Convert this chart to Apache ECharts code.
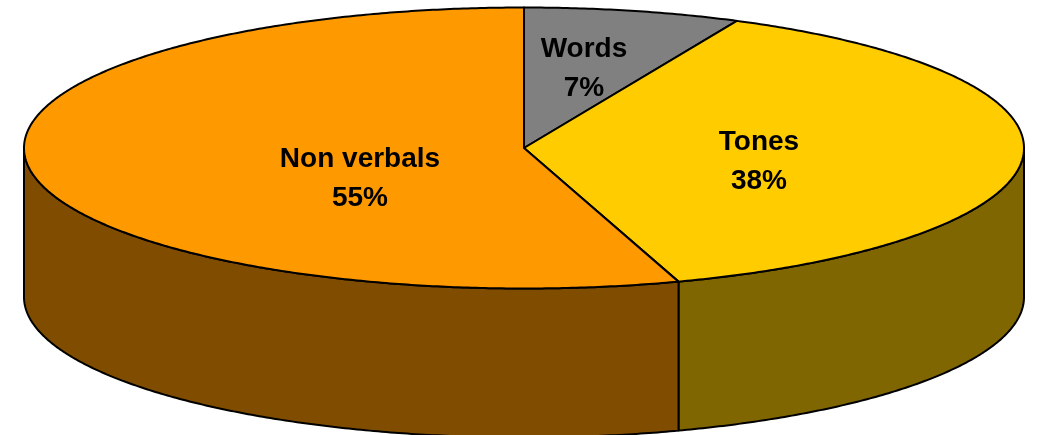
<!DOCTYPE html>
<html>
<head>
<meta charset="utf-8">
<style>
html, body { margin: 0; padding: 0; background: #fff; }
#main { width: 1038px; height: 435px; }
</style>
<script src="https://cdn.jsdelivr.net/npm/echarts@6/dist/echarts.min.js"></script>
</head>
<body>
<div id="main"></div>
<script>
const categories = ['Words', 'Tones', 'Non verbals']
const shares = [7, 38, 55]
const topColors = ['#808080', '#FFCC00', '#FF9900']
const sideColors = ['#404040', '#806600', '#804D00']

// where the text sits, as dx/dy from the pie centre
const labelSpots = [[60, -79], [235, 14], [-164, 31]]

const cx = 524, cy = 148, rx = 500, ry = 140.5, depth = 149
const total = shares.reduce((a, b) => a + b, 0)

const rim = (deg, drop) => {
    const a = deg * Math.PI / 180
    return [cx + rx * Math.cos(a), cy + ry * Math.sin(a) + drop]
}

const arc = (from, to, drop) => {
    const pts = []
    const steps = Math.max(2, Math.ceil(Math.abs(to - from) * 2))
    for (let i = 0; i <= steps; i++) {
        pts.push(rim(from + (to - from) * i / steps, drop))
    }
    return pts
}

const renderSlice = (params, api) => {
    const i = params.dataIndex
    let before = 0
    for (let k = 0; k < i; k++) before += shares[k]
    const start = -90 + before / total * 360
    const end = start + api.value(0) / total * 360
    const children = []

    // only the front half of the wall can be seen
    const from = Math.max(start, 0), to = Math.min(end, 180)
    if (to > from) {
        children.push({
            type: 'polygon',
            z2: 1,
            shape: { points: arc(from, to, 0).concat(arc(to, from, depth)) },
            style: { fill: sideColors[i], stroke: '#000', lineWidth: 2, lineJoin: 'round' }
        })
    }
    children.push({
        type: 'polygon',
        z2: 2,
        shape: { points: [[cx, cy]].concat(arc(start, end, 0)) },
        style: { fill: topColors[i], stroke: '#000', lineWidth: 2, lineJoin: 'round' }
    })
    children.push({
        type: 'text',
        z2: 3,
        x: cx + labelSpots[i][0],
        y: cy + labelSpots[i][1],
        style: {
            text: categories[i] + '\n' + api.value(0) + '%',
            fill: '#000',
            font: 'bold 28px "Liberation Sans", Arial, sans-serif',
            lineHeight: 39,
            align: 'center',
            verticalAlign: 'middle'
        }
    })
    return { type: 'group', children }
}

var myChart = echarts.init(document.getElementById('main'), null, { renderer: 'canvas' })
myChart.setOption({
    animation: false,
    series: [{
        type: 'custom',
        coordinateSystem: 'none',
        renderItem: renderSlice,
        data: shares.map(v => [v])
    }]
})
</script>
</body>
</html>
